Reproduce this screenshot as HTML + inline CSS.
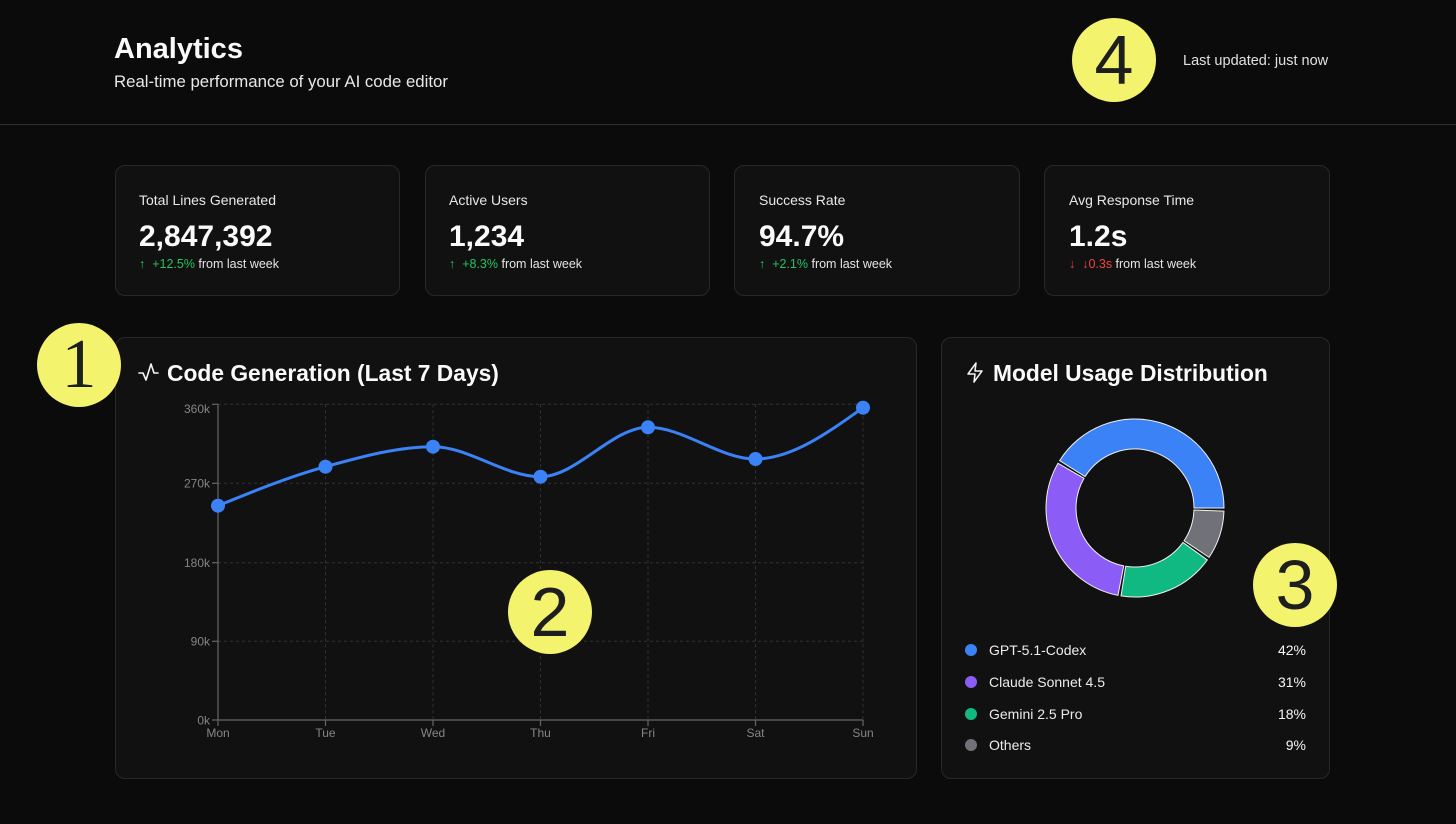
<!DOCTYPE html>
<html><head><meta charset="utf-8"><style>
*{margin:0;padding:0;box-sizing:border-box}
html,body{width:1456px;height:824px;background:#0b0b0b;overflow:hidden;font-family:"Liberation Sans",sans-serif;color:#f5f5f5}
.abs{position:absolute;white-space:nowrap}
.card{position:absolute;background:#111111;border:1px solid #282828;border-radius:10px}
.lbl{font-size:14px;line-height:14px;color:#e8e8e8}
.val{font-size:30px;line-height:30px;font-weight:bold;color:#fafafa}
.chg{font-size:12.5px;line-height:12.5px;color:#e5e5e5}
.up{color:#22c55e}.dn{color:#ef4444}
.ttl{font-size:22.8px;line-height:22.8px;font-weight:bold;color:#fafafa}
.leg{font-size:14px;line-height:14px;color:#ececec}
.pct{font-size:14px;line-height:14px;color:#f5f5f5;text-align:right;width:60px}
.dot{position:absolute;width:12px;height:12px;border-radius:50%}
.badge{position:absolute;width:84px;height:84px;border-radius:50%;background:#f3f36e;color:#1e1e1e;font-size:70px;line-height:84px;text-align:center;font-family:"Liberation Sans",sans-serif}
</style></head><body>

<div class="abs" style="left:114px;top:34.5px;font-size:29px;line-height:29px;font-weight:bold;color:#fafafa">Analytics</div>
<div class="abs" style="left:114px;top:73.5px;font-size:16.8px;line-height:16.8px;color:#e8e8e8">Real-time performance of your AI code editor</div>
<div class="abs" style="left:1183px;top:53.5px;font-size:14.5px;line-height:14.5px;color:#e0e0e0">Last updated: just now</div>
<div class="abs" style="left:0;top:124px;width:1456px;height:1px;background:#2e2e2e"></div>

<!-- stat cards -->
<div class="card" style="left:115px;top:165px;width:285px;height:131px"></div>
<div class="card" style="left:425px;top:165px;width:285px;height:131px"></div>
<div class="card" style="left:734px;top:165px;width:286px;height:131px"></div>
<div class="card" style="left:1044px;top:165px;width:286px;height:131px"></div>

<div class="abs lbl" style="left:139px;top:192.5px">Total Lines Generated</div>
<div class="abs val" style="left:139px;top:221.6px">2,847,392</div>
<div class="abs chg" style="left:139px;top:257.7px"><span class="up">&#8593;&nbsp; +12.5%</span> from last week</div>

<div class="abs lbl" style="left:449px;top:192.5px">Active Users</div>
<div class="abs val" style="left:449px;top:221.6px">1,234</div>
<div class="abs chg" style="left:449px;top:257.7px"><span class="up">&#8593;&nbsp; +8.3%</span> from last week</div>

<div class="abs lbl" style="left:759px;top:192.5px">Success Rate</div>
<div class="abs val" style="left:759px;top:221.6px">94.7%</div>
<div class="abs chg" style="left:759px;top:257.7px"><span class="up">&#8593;&nbsp; +2.1%</span> from last week</div>

<div class="abs lbl" style="left:1069px;top:192.5px">Avg Response Time</div>
<div class="abs val" style="left:1069px;top:221.6px">1.2s</div>
<div class="abs chg" style="left:1069px;top:257.7px"><span class="dn">&#8595;&nbsp; &#8595;0.3s</span> from last week</div>

<!-- chart cards -->
<div class="card" style="left:115px;top:337px;width:802px;height:442px"></div>
<div class="card" style="left:941px;top:337px;width:389px;height:442px"></div>

<div class="abs ttl" style="left:167px;top:362.4px">Code Generation (Last 7 Days)</div>
<div class="abs ttl" style="left:993px;top:362.4px">Model Usage Distribution</div>

<svg class="abs" style="left:0;top:0" width="1456" height="824" viewBox="0 0 1456 824">
  <!-- activity icon -->
  <polyline points="139,373 143,373 146,380 151,364 154,373 158,373" fill="none" stroke="#f5f5f5" stroke-width="1.6" stroke-linejoin="round" stroke-linecap="round"/>
  <!-- zap icon -->
  <path d="M976,363 L968,374 L975,374 L974,382 L982,371 L975,371 Z" fill="none" stroke="#f5f5f5" stroke-width="1.5" stroke-linejoin="round"/>

  <!-- grid -->
  <g stroke="#333" stroke-width="1" stroke-dasharray="3 3" fill="none">
    <line x1="218" y1="404.3" x2="863" y2="404.3"/>
    <line x1="218" y1="483.3" x2="863" y2="483.3"/>
    <line x1="218" y1="562.7" x2="863" y2="562.7"/>
    <line x1="218" y1="641.3" x2="863" y2="641.3"/>
    <line x1="325.5" y1="404.3" x2="325.5" y2="720"/>
    <line x1="433" y1="404.3" x2="433" y2="720"/>
    <line x1="540.5" y1="404.3" x2="540.5" y2="720"/>
    <line x1="648" y1="404.3" x2="648" y2="720"/>
    <line x1="755.5" y1="404.3" x2="755.5" y2="720"/>
    <line x1="863" y1="404.3" x2="863" y2="720"/>
  </g>
  <!-- axes -->
  <g stroke="#666" stroke-width="1.2" fill="none">
    <line x1="218" y1="404.3" x2="218" y2="720"/>
    <line x1="218" y1="720" x2="863" y2="720"/>
    <line x1="212" y1="404.3" x2="218" y2="404.3"/>
    <line x1="212" y1="483.3" x2="218" y2="483.3"/>
    <line x1="212" y1="562.7" x2="218" y2="562.7"/>
    <line x1="212" y1="641.3" x2="218" y2="641.3"/>
    <line x1="212" y1="720" x2="218" y2="720"/>
    <line x1="218" y1="720" x2="218" y2="726"/>
    <line x1="325.5" y1="720" x2="325.5" y2="726"/>
    <line x1="433" y1="720" x2="433" y2="726"/>
    <line x1="540.5" y1="720" x2="540.5" y2="726"/>
    <line x1="648" y1="720" x2="648" y2="726"/>
    <line x1="755.5" y1="720" x2="755.5" y2="726"/>
    <line x1="863" y1="720" x2="863" y2="726"/>
  </g>
  <g font-family="Liberation Sans, sans-serif" font-size="12" fill="#858585" text-anchor="end">
    <text x="210" y="412.8">360k</text>
    <text x="210" y="487.6">270k</text>
    <text x="210" y="567">180k</text>
    <text x="210" y="645.6">90k</text>
    <text x="210" y="724.3">0k</text>
  </g>
  <g font-family="Liberation Sans, sans-serif" font-size="12" fill="#858585" text-anchor="middle">
    <text x="218" y="737">Mon</text>
    <text x="325.5" y="737">Tue</text>
    <text x="433" y="737">Wed</text>
    <text x="540.5" y="737">Thu</text>
    <text x="648" y="737">Fri</text>
    <text x="755.5" y="737">Sat</text>
    <text x="863" y="737">Sun</text>
  </g>
  <!-- line -->
  <path d="M218,505.7 C253.83,491.12 289.67,476.53 325.5,466.7 C361.33,456.87 397.17,446.7 433,446.7 C468.83,446.7 504.67,476.7 540.5,476.7 C576.33,476.7 612.17,427.3 648,427.3 C683.83,427.3 719.67,459 755.5,459 C791.33,459 827.17,433.35 863,407.7" fill="none" stroke="#3b82f6" stroke-width="3"/>
  <g fill="#3b82f6">
    <circle cx="218" cy="505.7" r="7"/>
    <circle cx="325.5" cy="466.7" r="7"/>
    <circle cx="433" cy="446.7" r="7"/>
    <circle cx="540.5" cy="476.7" r="7"/>
    <circle cx="648" cy="427.3" r="7"/>
    <circle cx="755.5" cy="459" r="7"/>
    <circle cx="863" cy="407.7" r="7"/>
  </g>

  <!-- donut -->
  <g stroke="#f0f0f0" stroke-width="1">
    <path d="M1224,508 A89,89 0 0 0 1059.64,460.64 L1085.04,476.61 A59,59 0 0 1 1194,508 Z" fill="#3b82f6"/>
    <path d="M1058.05,463.28 A89,89 0 0 0 1117.96,595.35 L1123.70,565.91 A59,59 0 0 1 1083.99,478.35 Z" fill="#8b5cf6"/>
    <path d="M1121.02,595.90 A89,89 0 0 0 1207.29,559.91 L1182.93,542.41 A59,59 0 0 1 1125.73,566.27 Z" fill="#10b981"/>
    <path d="M1209.06,557.36 A89,89 0 0 0 1223.95,511.11 L1193.96,510.06 A59,59 0 0 1 1184.09,540.72 Z" fill="#71717a"/>
  </g>
</svg>

<!-- legend -->
<div class="dot" style="left:965px;top:644px;background:#3b82f6"></div>
<div class="abs leg" style="left:989px;top:643px">GPT-5.1-Codex</div>
<div class="abs pct" style="left:1246px;top:643px">42%</div>
<div class="dot" style="left:965px;top:676px;background:#8b5cf6"></div>
<div class="abs leg" style="left:989px;top:675px">Claude Sonnet 4.5</div>
<div class="abs pct" style="left:1246px;top:675px">31%</div>
<div class="dot" style="left:965px;top:708px;background:#10b981"></div>
<div class="abs leg" style="left:989px;top:707px">Gemini 2.5 Pro</div>
<div class="abs pct" style="left:1246px;top:707px">18%</div>
<div class="dot" style="left:965px;top:739px;background:#71717a"></div>
<div class="abs leg" style="left:989px;top:738px">Others</div>
<div class="abs pct" style="left:1246px;top:738px">9%</div>

<!-- annotation badges -->
<div class="badge" style="left:37px;top:323px;font-family:'Liberation Serif',serif">1</div>
<div class="badge" style="left:508px;top:570px">2</div>
<div class="badge" style="left:1253px;top:543px">3</div>
<div class="badge" style="left:1072px;top:18px">4</div>

</body></html>
